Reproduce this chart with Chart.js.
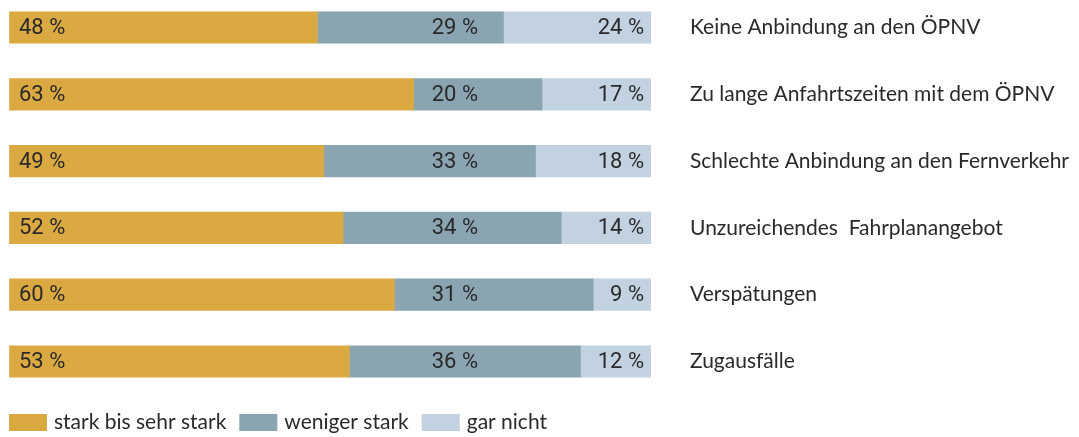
<!DOCTYPE html>
<html>
<head>
<meta charset="utf-8">
<script src="https://cdn.jsdelivr.net/npm/chart.js@4.4.1/dist/chart.umd.min.js"></script>
<style>
  html, body { margin: 0; padding: 0; background: #ffffff; }
  #wrap { width: 1079px; height: 437px; position: relative; }
</style>
</head>
<body>
<div id="wrap"><canvas id="c" width="1079" height="437"></canvas></div>
<script>
// ---- data ----
const categories = [
  'Keine Anbindung an den ÖPNV',
  'Zu lange Anfahrtszeiten mit dem ÖPNV',
  'Schlechte Anbindung an den Fernverkehr',
  'Unzureichendes  Fahrplanangebot',
  'Verspätungen',
  'Zugausfälle'
];
const seriesNames = ['stark bis sehr stark', 'weniger stark', 'gar nicht'];
const starkValues = [48, 63, 49, 52, 60, 53];
const wenigerValues = [29, 20, 33, 34, 31, 36];
const garNichtValues = [24, 17, 18, 14, 9, 12];

const colors = ['#DBA942', '#8AA5B1', '#C2D2E0'];
const textColor = '#2a2a2a';
const labelFont = '21px Lato, "Open Sans", sans-serif';
const valueFont = '22px Roboto, "Liberation Sans", sans-serif';

// value labels in fixed columns (left-aligned first, right-aligned others)
const valueLabelPlugin = {
  id: 'valueLabels',
  afterDatasetsDraw(chart, args, opts) {
    const ctx = chart.ctx;
    ctx.save();
    ctx.font = valueFont;
    ctx.fillStyle = textColor;
    ctx.textBaseline = 'middle';
    chart.data.datasets.forEach((ds, i) => {
      const meta = chart.getDatasetMeta(i);
      const col = opts.columns[i];
      ctx.textAlign = col.align;
      meta.data.forEach((el, j) => {
        ctx.fillText(ds.data[j] + ' %', col.x, el.y + 1);
      });
    });
    ctx.restore();
  }
};

// legend drawn below chart
const legendPlugin = {
  id: 'customLegend',
  afterDraw(chart, args, opts) {
    const ctx = chart.ctx;
    ctx.save();
    ctx.font = labelFont;
    ctx.textBaseline = 'middle';
    ctx.textAlign = 'left';
    let x = opts.x;
    chart.data.datasets.forEach((ds) => {
      ctx.fillStyle = ds.backgroundColor;
      ctx.fillRect(x, opts.y, opts.boxW, opts.boxH);
      x += opts.boxW + opts.gapText;
      ctx.fillStyle = textColor;
      ctx.fillText(ds.label, x, opts.y + opts.boxH / 2);
      x += ctx.measureText(ds.label).width + opts.gapItem;
    });
    ctx.restore();
  }
};

const barClip = { left: false, top: false, right: 0, bottom: false };

new Chart(document.getElementById('c'), {
  type: 'bar',
  data: {
    labels: categories,
    datasets: [
      { label: seriesNames[0], data: starkValues, backgroundColor: colors[0] },
      { label: seriesNames[1], data: wenigerValues, backgroundColor: colors[1] },
      { label: seriesNames[2], data: garNichtValues, backgroundColor: colors[2] }
    ].map(d => Object.assign(d, { barThickness: 31.5, borderWidth: 0, clip: barClip }))
  },
  options: {
    indexAxis: 'y',
    responsive: false,
    animation: false,
    layout: { padding: { left: 9.5, top: 27.5, right: 0, bottom: 75.5 } },
    scales: {
      x: { stacked: true, min: 0, max: 100, display: false },
      y: {
        stacked: true,
        position: 'right',
        offset: false,
        grid: { display: false, drawTicks: false },
        border: { display: false },
        ticks: { padding: 39, color: textColor, font: { family: 'Lato, "Open Sans", sans-serif', size: 21 } },
        afterFit: (s) => { s.width = 428; s.paddingTop = 0; s.paddingBottom = 0; }
      }
    },
    plugins: {
      legend: { display: false },
      tooltip: { enabled: false },
      valueLabels: { columns: [ { x: 19, align: 'left' }, { x: 478, align: 'right' }, { x: 644, align: 'right' } ] },
      customLegend: { x: 9, y: 414, boxW: 38, boxH: 17, gapText: 7, gapItem: 13 }
    }
  },
  plugins: [valueLabelPlugin, legendPlugin]
});
</script>
</body>
</html>
